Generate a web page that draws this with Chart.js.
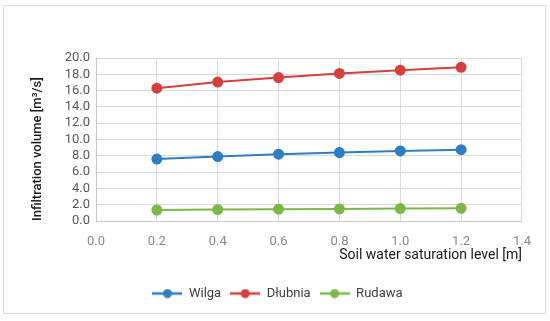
<!DOCTYPE html>
<html>
<head>
<meta charset="utf-8">
<script src="https://cdn.jsdelivr.net/npm/chart.js@4"></script>
<style>
    html, body { margin: 0; padding: 0; background: #fff; }
    #box {
        position: absolute; left: 3px; top: 5px;
        width: 541px; height: 307px;
        border: 1px solid #dcdcdc;
    }
</style>
</head>
<body>
<div id="box"><canvas id="chart" width="541" height="307"></canvas></div>
<script>
    // saturation level [m]
    const levels = [0.2, 0.4, 0.6, 0.8, 1.0, 1.2];
    // infiltration volume [m3/s]
    const wilga = [7.6, 7.9, 8.2, 8.4, 8.6, 8.75];
    const dlubnia = [16.3, 17.05, 17.6, 18.1, 18.5, 18.85];
    const rudawa = [1.35, 1.4, 1.45, 1.48, 1.52, 1.56];
    const seriesNames = ['Wilga', 'Dłubnia', 'Rudawa'];
    const colors = ['#2e7ec3', '#d5403f', '#7cb848'];

    const FONT = 'Roboto, "DejaVu Sans", sans-serif';
    Chart.defaults.font.family = FONT;

    function pts(vals) {
        return levels.map((x, i) => ({ x: x, y: vals[i] }));
    }

    // small line+dot icon for the legend
    function legendIcon(color) {
        const c = document.createElement('canvas');
        c.width = 30; c.height = 10;
        const g = c.getContext('2d');
        g.strokeStyle = color;
        g.lineWidth = 2.5;
        g.beginPath(); g.moveTo(0, 5); g.lineTo(30, 5); g.stroke();
        g.fillStyle = color;
        g.beginPath(); g.arc(15, 5, 4.5, 0, Math.PI * 2); g.fill();
        return c;
    }
    const icons = colors.map(legendIcon);

    const datasets = [wilga, dlubnia, rudawa].map((vals, i) => ({
        label: seriesNames[i],
        data: pts(vals),
        borderColor: colors[i],
        backgroundColor: colors[i],
        borderWidth: 2,
        pointRadius: 4.5,
        pointHoverRadius: 4.5,
        tension: 0
    }));

    new Chart(document.getElementById('chart'), {
        type: 'line',
        data: { datasets: datasets },
        options: {
            responsive: false,
            animation: false,
            layout: { padding: { top: 52, right: 20, bottom: 3, left: 26 } },
            plugins: {
                tooltip: { enabled: false },
                legend: {
                    position: 'bottom',
                    labels: {
                        usePointStyle: true,
                        pointStyleWidth: 30,
                        color: '#404040',
                        font: { size: 13 },
                        padding: 9,
                        generateLabels: function (chart) {
                            const items = Chart.defaults.plugins.legend.labels.generateLabels(chart);
                            items.forEach((it, i) => { it.pointStyle = icons[i]; });
                            return items;
                        }
                    }
                }
            },
            scales: {
                x: {
                    type: 'linear',
                    min: 0, max: 1.4,
                    ticks: {
                        stepSize: 0.2,
                        color: '#8a8a8a',
                        font: { size: 13, lineHeight: 1 },
                        padding: 14,
                        callback: v => v.toFixed(1)
                    },
                    grid: { color: '#dadada', drawTicks: false },
                    border: { color: '#c8c8c8' },
                    title: {
                        display: true,
                        text: 'Soil water saturation level [m]',
                        align: 'end',
                        color: '#1a1a1a',
                        font: { size: 14 },
                        padding: { top: 0, bottom: 14 }
                    },
                    afterFit: s => { s.height = 57; }
                },
                y: {
                    min: 0, max: 20,
                    ticks: {
                        stepSize: 2,
                        autoSkip: false,
                        color: '#595959',
                        font: { size: 13 },
                        padding: 6,
                        callback: v => v.toFixed(1)
                    },
                    grid: { color: '#dadada', drawTicks: false },
                    border: { color: '#c8c8c8' },
                    title: {
                        display: true,
                        text: 'Infiltration volume [m³/s]',
                        align: 'start',
                        color: '#1a1a1a',
                        font: { size: 13, weight: '500' },
                        padding: { top: 0, bottom: 10 }
                    },
                    afterFit: s => { s.width = 66; }
                }
            }
        }
    });
</script>
</body>
</html>
